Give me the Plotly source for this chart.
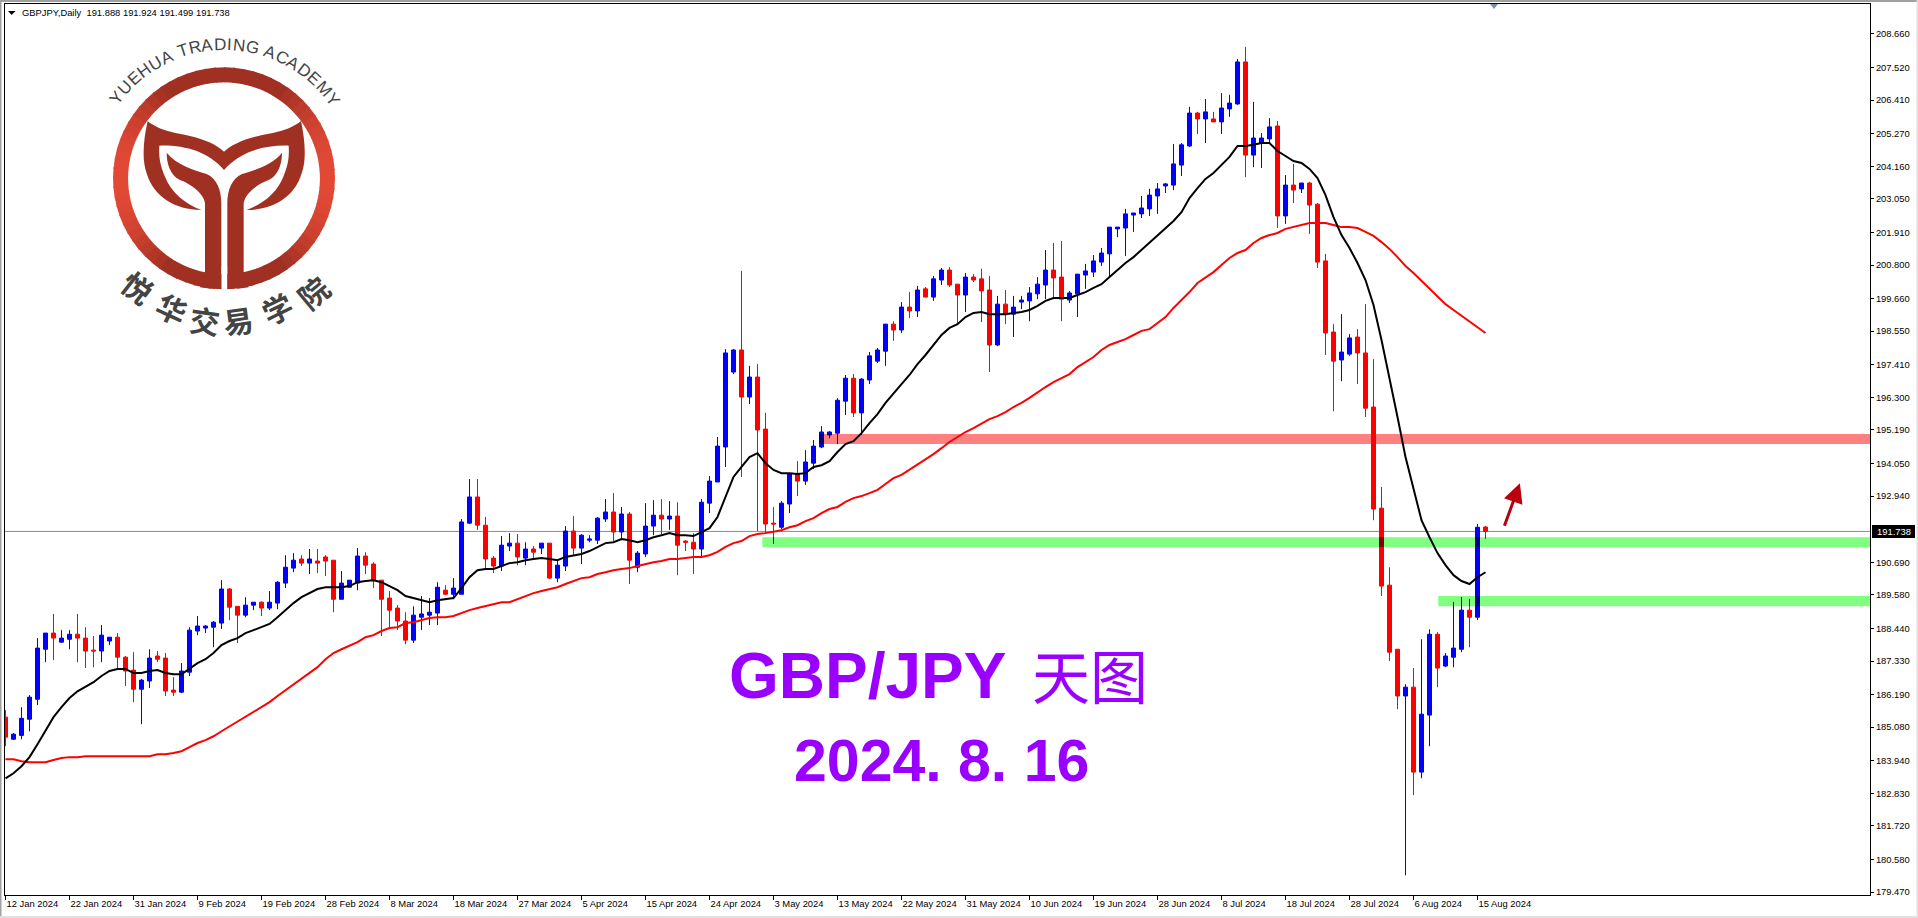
import math
import plotly.graph_objects as go

W, H = 1918, 918
PLOT_L, PLOT_R, PLOT_T, PLOT_B = 5, 1870, 4, 895

tick_labels = ["12 Jan 2024", "22 Jan 2024", "31 Jan 2024", "9 Feb 2024", "19 Feb 2024", "28 Feb 2024",
               "8 Mar 2024", "18 Mar 2024", "27 Mar 2024", "5 Apr 2024", "15 Apr 2024", "24 Apr 2024",
               "3 May 2024", "13 May 2024", "22 May 2024", "31 May 2024", "10 Jun 2024", "19 Jun 2024",
               "28 Jun 2024", "8 Jul 2024", "18 Jul 2024", "28 Jul 2024", "6 Aug 2024", "15 Aug 2024"]
price_ticks = [208.66, 207.52, 206.41, 205.27, 204.16, 203.05, 201.91, 200.80, 199.66, 198.55, 197.41,
               196.30, 195.19, 194.05, 192.94, 190.69, 189.58, 188.44, 187.33, 186.19, 185.08, 183.94,
               182.83, 181.72, 180.58, 179.47]

opens = [185.42, 184.67, 184.80, 185.35, 186.03, 187.73, 188.28, 187.97, 188.07, 188.24,
         188.11, 187.70, 187.67, 188.01, 188.14, 187.46, 187.02, 186.37, 186.65, 187.50,
         187.43, 186.34, 186.27, 186.95, 188.35, 188.45, 188.48, 188.62, 189.78, 189.19,
         188.89, 189.23, 189.33, 189.13, 189.30, 189.98, 190.49, 190.80, 190.66, 190.73,
         190.87, 190.76, 189.43, 189.84, 189.98, 190.90, 190.63, 190.08, 189.47, 189.13,
         188.69, 188.04, 188.82, 188.89, 188.96, 189.74, 189.60, 189.60, 192.02, 192.91,
         191.95, 190.83, 190.56, 191.24, 191.34, 190.83, 191.14, 191.17, 191.34, 190.15,
         190.56, 191.75, 191.17, 191.44, 191.44, 192.16, 192.40, 191.72, 192.33, 190.52,
         190.97, 191.92, 192.29, 192.16, 192.26, 191.41, 191.37, 191.14, 192.70, 193.42,
         194.61, 197.16, 197.91, 196.31, 196.99, 195.22, 192.02, 191.88, 192.67, 193.69,
         193.45, 194.06, 194.61, 195.02, 195.08, 196.17, 196.95, 195.77, 196.89, 197.53,
         197.87, 198.79, 198.59, 199.37, 199.24, 199.99, 199.71, 200.29, 200.63, 200.15,
         199.78, 200.39, 200.33, 199.95, 198.08, 199.47, 199.13, 199.54, 199.58, 199.82,
         200.12, 200.63, 200.39, 199.61, 199.82, 200.46, 200.56, 200.90, 201.18, 202.03,
         202.06, 202.50, 202.54, 202.71, 203.15, 203.49, 203.52, 204.20, 204.85, 205.97,
         205.77, 205.77, 205.67, 206.11, 206.28, 207.71, 204.54, 204.95, 205.09, 205.53,
         202.47, 203.52, 203.39, 203.59, 202.87, 200.94, 198.52, 197.57, 197.77, 198.35,
         197.81, 195.97, 192.53, 189.91, 187.73, 186.14, 186.44, 183.55, 185.49, 188.24,
         187.16, 187.46, 187.73, 189.06, 188.82, 191.888]
highs = [185.66, 184.88, 185.76, 186.17, 188.11, 188.28, 188.93, 188.38, 188.38, 188.93,
         188.48, 188.18, 188.55, 188.14, 188.28, 187.50, 187.63, 186.72, 187.73, 187.67,
         187.60, 186.78, 187.26, 188.48, 188.86, 188.55, 188.69, 190.08, 189.81, 189.19,
         189.50, 189.33, 189.36, 189.71, 190.05, 190.93, 191.00, 190.93, 191.14, 191.14,
         190.93, 190.76, 190.39, 190.08, 191.17, 191.03, 190.69, 190.08, 189.71, 189.23,
         188.99, 189.19, 189.54, 189.47, 190.01, 189.91, 190.15, 192.16, 193.52, 193.52,
         192.23, 190.90, 191.58, 191.68, 191.65, 191.37, 191.24, 191.34, 191.34, 190.73,
         191.92, 192.26, 191.65, 191.61, 192.23, 192.84, 193.04, 192.57, 192.40, 191.07,
         192.70, 192.80, 192.84, 192.77, 192.73, 191.44, 191.68, 192.84, 193.62, 194.95,
         197.94, 197.94, 200.60, 197.37, 197.43, 195.77, 192.57, 192.77, 193.69, 194.13,
         194.50, 194.85, 195.32, 195.15, 196.27, 197.06, 197.09, 196.95, 197.84, 197.98,
         198.79, 198.89, 199.54, 199.88, 200.09, 200.05, 200.43, 200.70, 200.73, 200.15,
         200.53, 200.49, 200.67, 200.43, 199.75, 199.95, 199.75, 199.75, 200.05, 200.39,
         201.31, 201.55, 201.62, 199.92, 200.49, 200.84, 201.14, 201.38, 202.09, 202.09,
         202.71, 202.57, 203.15, 203.39, 203.59, 203.59, 204.92, 204.95, 206.18, 206.01,
         206.45, 206.01, 206.65, 206.59, 207.81, 208.22, 206.35, 205.29, 205.80, 205.70,
         203.86, 204.24, 203.59, 203.63, 202.91, 201.18, 198.79, 199.13, 198.45, 198.62,
         199.47, 197.60, 193.25, 190.52, 187.73, 186.54, 187.09, 188.07, 188.41, 188.31,
         187.60, 189.33, 189.50, 189.44, 191.99, 191.924]
lows = [184.43, 184.64, 184.67, 184.94, 185.83, 187.29, 187.36, 187.97, 187.73, 187.29,
        187.09, 187.12, 187.29, 187.87, 187.09, 186.48, 185.93, 185.18, 186.41, 187.29,
        186.14, 186.14, 186.24, 186.82, 188.21, 188.28, 187.80, 188.42, 188.72, 187.94,
        188.82, 189.06, 188.86, 189.06, 189.09, 189.81, 190.35, 190.56, 190.29, 190.32,
        190.22, 188.99, 189.43, 189.84, 189.74, 190.29, 189.81, 188.18, 188.42, 188.38,
        187.90, 187.94, 188.38, 188.55, 188.55, 189.57, 189.43, 189.60, 191.99, 191.79,
        190.42, 190.32, 190.39, 191.07, 190.59, 190.59, 190.80, 190.97, 190.12, 190.01,
        190.39, 190.93, 190.63, 191.37, 191.31, 192.06, 191.41, 191.44, 189.95, 190.35,
        190.87, 191.61, 191.65, 191.79, 190.25, 191.07, 190.29, 190.87, 192.36, 193.42,
        193.93, 197.09, 193.59, 196.07, 191.75, 191.65, 191.31, 191.82, 192.36, 192.94,
        193.32, 193.86, 194.57, 194.91, 194.71, 195.70, 195.63, 195.02, 196.75, 197.47,
        197.37, 198.22, 198.49, 199.00, 199.03, 199.71, 199.58, 200.12, 200.05, 198.76,
        199.20, 200.22, 198.86, 197.16, 198.05, 198.79, 198.35, 199.30, 198.89, 199.64,
        199.64, 199.71, 198.89, 199.51, 199.03, 199.99, 200.39, 200.77, 200.39, 201.75,
        201.11, 201.93, 202.40, 202.47, 202.54, 203.25, 203.35, 203.83, 204.82, 205.26,
        204.95, 205.67, 205.26, 205.84, 206.25, 203.79, 204.13, 204.10, 204.95, 202.06,
        202.20, 202.91, 203.25, 201.86, 200.70, 197.74, 195.83, 196.85, 197.71, 196.75,
        195.63, 192.12, 189.54, 187.33, 185.69, 180.04, 182.77, 183.34, 184.43, 186.44,
        187.12, 187.12, 187.63, 187.80, 188.72, 191.499]
closes = [184.74, 184.84, 185.38, 186.10, 187.77, 188.28, 188.11, 188.11, 188.24, 188.11,
          187.67, 187.67, 188.21, 188.14, 187.46, 186.99, 186.37, 186.68, 187.43, 187.39,
          186.31, 186.27, 186.99, 188.38, 188.52, 188.52, 188.65, 189.78, 189.16, 188.89,
          189.23, 189.33, 189.13, 189.33, 190.01, 190.52, 190.76, 190.66, 190.80, 190.66,
          190.73, 189.43, 189.98, 190.08, 190.90, 190.59, 190.08, 189.43, 189.06, 188.69,
          188.04, 188.89, 188.93, 188.99, 189.84, 189.60, 189.81, 192.06, 192.91, 191.95,
          190.80, 190.56, 191.27, 191.34, 190.87, 191.14, 191.03, 191.34, 190.15, 190.59,
          191.75, 191.17, 191.61, 191.48, 192.19, 192.40, 191.72, 192.33, 190.76, 191.00,
          191.92, 192.29, 192.16, 192.26, 191.27, 191.37, 191.14, 192.73, 193.45, 194.64,
          197.81, 197.91, 196.31, 196.99, 195.19, 191.99, 191.99, 192.70, 193.69, 193.45,
          194.10, 194.64, 195.12, 195.12, 196.20, 196.95, 195.77, 196.92, 197.71, 197.91,
          198.79, 198.59, 199.37, 199.24, 199.95, 199.71, 200.33, 200.63, 200.12, 199.78,
          200.39, 200.29, 199.92, 198.08, 199.47, 199.13, 199.37, 199.61, 199.85, 200.15,
          200.63, 200.36, 199.64, 199.85, 200.49, 200.60, 200.94, 201.21, 202.09, 202.09,
          202.54, 202.57, 202.74, 203.18, 203.39, 203.56, 204.24, 204.89, 205.97, 205.77,
          206.01, 205.67, 206.14, 206.31, 207.71, 204.54, 205.12, 205.12, 205.50, 202.47,
          203.52, 203.35, 203.59, 202.84, 200.90, 198.49, 197.53, 197.84, 198.32, 197.81,
          195.93, 192.50, 189.88, 187.63, 186.14, 186.44, 183.55, 185.52, 188.24, 187.09,
          187.50, 187.77, 189.06, 188.82, 191.88, 191.738]
ma_fast = [183.34, 183.51, 183.75, 184.06, 184.50, 184.98, 185.42, 185.76, 186.07, 186.30,
           186.47, 186.61, 186.82, 186.99, 187.06, 187.06, 186.92, 186.92, 186.99, 187.02,
           186.92, 186.88, 186.88, 187.06, 187.26, 187.39, 187.60, 187.87, 188.01, 188.11,
           188.28, 188.38, 188.48, 188.59, 188.82, 189.06, 189.30, 189.50, 189.64, 189.78,
           189.84, 189.84, 189.84, 189.88, 190.01, 190.05, 190.08, 190.01, 189.88, 189.74,
           189.54, 189.47, 189.40, 189.33, 189.40, 189.43, 189.47, 189.81, 190.18, 190.42,
           190.46, 190.46, 190.56, 190.66, 190.69, 190.76, 190.80, 190.83, 190.80, 190.76,
           190.87, 190.93, 190.97, 191.07, 191.21, 191.34, 191.37, 191.48, 191.44, 191.37,
           191.44, 191.54, 191.61, 191.68, 191.61, 191.61, 191.58, 191.72, 191.85, 192.23,
           192.91, 193.59, 193.93, 194.27, 194.40, 194.06, 193.83, 193.72, 193.72, 193.69,
           193.72, 193.93, 193.99, 194.13, 194.44, 194.71, 194.81, 195.08, 195.42, 195.73,
           196.11, 196.45, 196.75, 197.06, 197.43, 197.74, 198.08, 198.42, 198.66, 198.79,
           199.03, 199.17, 199.20, 199.13, 199.13, 199.13, 199.17, 199.20, 199.27, 199.41,
           199.58, 199.68, 199.68, 199.68, 199.78, 199.88, 200.02, 200.15, 200.39, 200.63,
           200.87, 201.07, 201.31, 201.55, 201.79, 202.06, 202.30, 202.60, 203.08, 203.42,
           203.73, 203.93, 204.21, 204.48, 204.85, 204.85, 204.89, 204.95, 204.95, 204.68,
           204.51, 204.34, 204.27, 204.07, 203.76, 203.18, 202.43, 201.82, 201.38, 200.87,
           200.29, 199.44, 198.25, 196.99, 195.63, 194.27, 193.15, 192.12, 191.54, 191.00,
           190.59, 190.25, 190.05, 189.95, 190.18, 190.35]
ma_slow = [183.99, 183.99, 183.92, 183.89, 183.89, 183.89, 183.96, 184.03, 184.06, 184.06,
           184.09, 184.09, 184.09, 184.09, 184.09, 184.09, 184.09, 184.09, 184.09, 184.16,
           184.16, 184.20, 184.26, 184.40, 184.54, 184.64, 184.77, 184.94, 185.11, 185.28,
           185.45, 185.62, 185.76, 185.93, 186.14, 186.34, 186.54, 186.71, 186.92, 187.12,
           187.39, 187.60, 187.73, 187.84, 187.97, 188.14, 188.21, 188.35, 188.45, 188.48,
           188.62, 188.65, 188.72, 188.79, 188.82, 188.82, 188.86, 188.96, 189.06, 189.13,
           189.19, 189.26, 189.33, 189.33, 189.43, 189.54, 189.64, 189.71, 189.78, 189.84,
           189.95, 190.05, 190.15, 190.18, 190.29, 190.35, 190.42, 190.46, 190.49, 190.56,
           190.63, 190.69, 190.73, 190.80, 190.80, 190.83, 190.87, 190.87, 190.93, 191.04,
           191.21, 191.34, 191.41, 191.58, 191.65, 191.68, 191.72, 191.78, 191.88, 191.95,
           192.09, 192.19, 192.36, 192.50, 192.57, 192.74, 192.87, 192.94, 193.04, 193.15,
           193.35, 193.55, 193.66, 193.83, 194.03, 194.20, 194.37, 194.57, 194.78, 194.95,
           195.12, 195.25, 195.42, 195.56, 195.66, 195.80, 195.97, 196.11, 196.28, 196.48,
           196.65, 196.82, 196.96, 197.09, 197.33, 197.50, 197.67, 197.91, 198.08, 198.18,
           198.28, 198.42, 198.56, 198.62, 198.83, 199.03, 199.34, 199.61, 199.88, 200.19,
           200.36, 200.56, 200.80, 201.04, 201.21, 201.31, 201.55, 201.72, 201.82, 201.89,
           202.03, 202.09, 202.16, 202.23, 202.23, 202.23, 202.16, 202.09, 202.09, 202.06,
           201.93, 201.79, 201.58, 201.35, 201.07, 200.77, 200.53, 200.26, 200.02, 199.75,
           199.47, 199.27, 199.07, 198.86, 198.66, 198.49]

# price zones: (first bar, top, bottom)
red_zone = (102.0, 195.05, 194.71)
green_zone_upper = (94.6, 191.54, 191.21)
green_zone_lower = (179.1, 189.54, 189.19)
arrow_tail = (187.3, 191.88)
arrow_tip = (189.3, 193.38)
X_RANGE = [-0.0625, 233.0625]

BLUE, RED = "#0000ff", "#ff0000"
LOGO_DARK = "#a03022"
bars = list(range(len(closes)))


def px(x):
    # paper coordinates run over the plot area, not the whole window
    return (x - PLOT_L) / (PLOT_R - PLOT_L)


def py(y):
    return 1 - (y - PLOT_T) / (PLOT_B - PLOT_T)


def logo_path(points):
    # points in 3x crop pixels; plotly keeps one coordinate group per command
    out = []
    for cmd, vals in points:
        step = 6 if cmd == "C" else 2
        for s in range(0, len(vals), step):
            chunk = vals[s:s + step]
            coords = [f"{px(chunk[k] / 3):.5f},{py(chunk[k + 1] / 3):.5f}" for k in range(0, len(chunk), 2)]
            out.append(cmd + " " + " ".join(coords))
    return " ".join(out) + " Z"


def mirror(segments):
    # same outline flipped around the stem axis of the logo
    flipped = []
    for cmd, vals in segments:
        flipped.append((cmd, [1346 - v if k % 2 == 0 else v for k, v in enumerate(vals)]))
    return flipped


fig = go.Figure()
fig.add_trace(go.Candlestick(
    x=bars, open=opens, high=highs, low=lows, close=closes,
    increasing=dict(line=dict(color=BLUE, width=1), fillcolor=BLUE),
    decreasing=dict(line=dict(color=RED, width=1), fillcolor=RED),
    whiskerwidth=0, showlegend=False, hoverinfo="skip",
))

# candle parts under a zone look darker in the reference
dark = {"blue": ([], [], [], []), "red": ([], [], [], [])}
for first, top, bottom in [green_zone_upper, green_zone_lower, red_zone]:
    for i in bars:
        if i < first:
            continue
        name = "blue" if closes[i] > opens[i] else "red"
        if name == "red" and top == red_zone[1]:
            continue
        wick_hi, wick_lo = min(highs[i], top), max(lows[i], bottom)
        if wick_hi > wick_lo:
            dark[name][0].extend([i, i, None])
            dark[name][1].extend([wick_lo, wick_hi, None])
        body_hi, body_lo = min(max(opens[i], closes[i]), top), max(min(opens[i], closes[i]), bottom)
        if body_hi > body_lo:
            dark[name][2].extend([i, i, None])
            dark[name][3].extend([body_lo, body_hi, None])
for name, color in [("blue", "#000080"), ("red", "#800000")]:
    wx, wy, bx, by = dark[name]
    fig.add_trace(go.Scatter(x=wx, y=wy, mode="lines", line=dict(color=color, width=1),
                             showlegend=False, hoverinfo="skip"))
    fig.add_trace(go.Scatter(x=bx, y=by, mode="lines", line=dict(color=color, width=5),
                             showlegend=False, hoverinfo="skip"))

fig.add_trace(go.Scatter(x=bars, y=ma_slow, mode="lines", line=dict(color=RED, width=2),
                         showlegend=False, hoverinfo="skip"))
fig.add_trace(go.Scatter(x=bars, y=ma_fast, mode="lines", line=dict(color="#000000", width=2),
                         showlegend=False, hoverinfo="skip"))

shapes = []
for zone, color in [(red_zone, "#ff8080"), (green_zone_upper, "#80ff80"), (green_zone_lower, "#80ff80")]:
    shapes.append(dict(type="rect", layer="below", xref="x", yref="y", x0=zone[0], x1=X_RANGE[1],
                       y0=zone[2], y1=zone[1], fillcolor=color, line=dict(width=0)))
shapes.append(dict(type="line", layer="below", xref="paper", yref="y", x0=0, x1=1,
                   y0=closes[-1], y1=closes[-1], line=dict(color="#8090a0", width=1)))

# logo ring, split in arcs for the colour gradient
cx, cy, r_out, r_in = 224.0, 178.3, 111.0, 96.0
n_arcs = 72
for k in range(n_arcs):
    a0, a1 = 2 * math.pi * k / n_arcs, 2 * math.pi * (k + 1.15) / n_arcs
    mid = abs(math.cos((a0 + a1) / 2))
    t = max(0.0, (mid - 0.55) / 0.45)
    col = f"rgb({int(160 + 67 * t)},{int(48 + 26 * t)},{int(34 + 20 * t)})"
    pts = [(cx + r_out * math.cos(a0), cy + r_out * math.sin(a0)), (cx + r_out * math.cos(a1), cy + r_out * math.sin(a1)),
           (cx + r_in * math.cos(a1), cy + r_in * math.sin(a1)), (cx + r_in * math.cos(a0), cy + r_in * math.sin(a0))]
    path = "M " + " L ".join(f"{px(a):.5f},{py(b):.5f}" for a, b in pts) + " Z"
    shapes.append(dict(type="path", xref="paper", yref="paper", path=path, fillcolor=col, line=dict(width=0)))

crown = [("M", [443, 363]),
         ("C", [480, 395, 540, 400, 570, 408, 620, 420, 650, 435, 672, 455,
                695, 435, 725, 420, 775, 408, 805, 400, 865, 395, 903, 363,
                915, 420, 920, 480, 905, 520, 885, 590, 820, 630, 740, 630,
                790, 610, 830, 580, 850, 530, 865, 495, 868, 470, 866, 437,
                790, 435, 720, 455, 672, 510, 625, 455, 555, 435, 478, 437,
                476, 470, 480, 495, 495, 530, 515, 580, 555, 610, 604, 630,
                525, 630, 460, 590, 440, 520, 425, 480, 430, 420, 443, 363])]
leaf = [("M", [500, 458]),
        ("C", [530, 495, 580, 510, 620, 522, 650, 535, 664, 570, 664, 610]),
        ("L", [664, 835]),
        ("C", [664, 852, 650, 862, 632, 866]),
        ("L", [600, 862, 615, 815, 615, 610]),
        ("C", [612, 580, 570, 550, 540, 540, 510, 525, 500, 490, 500, 458])]
for seg in (crown, leaf, mirror(leaf)):
    shapes.append(dict(type="path", xref="paper", yref="paper", path=logo_path(seg),
                       fillcolor=LOGO_DARK, line=dict(width=0)))
# the ring is open at the foot of the stem
shapes.append(dict(type="rect", xref="paper", yref="paper", x0=px(664.5 / 3), x1=px(681.5 / 3),
                   y0=py(880 / 3), y1=py(800 / 3), fillcolor="#ffffff", line=dict(width=0)))

# window chrome and chart furniture
for x0, y0, x1, y1, col in [(0, 0, W, 2, "#a0a0a0"), (0, 0, 1.5, H, "#a0a0a0"),
                            (0, 916, W, H, "#e0e0e0"), (1916.5, 0, W, H, "#e0e0e0"),
                            (1872, 525, 1915, 538, "#000000")]:
    shapes.append(dict(type="rect", xref="paper", yref="paper", x0=px(x0), x1=px(x1), y0=py(y1), y1=py(y0),
                       fillcolor=col, line=dict(width=0)))
for tri, col in [([(8, 11), (15.5, 11), (11.7, 15)], "#000000"), ([(1490, 4), (1498, 4), (1494, 9)], "#7f8fa4")]:
    path = "M " + " L ".join(f"{px(a):.5f},{py(b):.5f}" for a, b in tri) + " Z"
    shapes.append(dict(type="path", xref="paper", yref="paper", path=path, fillcolor=col, line=dict(width=0)))

TICK_FONT = dict(family="Liberation Sans", size=9.4, color="#000000")
annotations = [
    dict(x=px(20), y=py(12.5), text="GBPJPY,Daily&nbsp;&nbsp;191.888 191.924 191.499 191.738", font=TICK_FONT,
         xanchor="left", yanchor="middle"),
    dict(x=px(1893.5), y=py(531.5), text=f"{closes[-1]:.3f}", font=dict(family="Liberation Sans", size=9.4, color="#ffffff"),
         xanchor="center", yanchor="middle"),
    dict(x=px(727), y=py(676), text="<b>GBP/JPY</b>", font=dict(family="Liberation Sans", size=64, color="#9900ff"),
         xanchor="left", yanchor="middle"),
    dict(x=px(1030), y=py(674), text="天图", font=dict(family="Noto Sans CJK SC", size=58, color="#9900ff"),
         xanchor="left", yanchor="middle"),
    dict(x=px(942), y=py(761), text="<b>2024. 8. 16</b>", font=dict(family="Liberation Sans", size=59, color="#9900ff"),
         xanchor="center", yanchor="middle"),
]

# logo lettering along the ring
ring_text = "YUEHUA TRADING ACADEMY"
widths = {"Y": .667, "U": .722, "E": .667, "H": .722, "A": .667, " ": .278, "T": .611, "R": .722,
          "D": .722, "I": .278, "N": .722, "G": .778, "C": .722, "M": .833}
total = sum(widths[c] for c in ring_text) - (widths["Y"] + widths["Y"]) / 2
run = -widths["Y"] / 2
for c in ring_text:
    ang = -53 + 107 * (run + widths[c] / 2) / total
    run += widths[c]
    if c == " ":
        continue
    rad = math.radians(ang)
    annotations.append(dict(x=px(cx + 134 * math.sin(rad)), y=py(cy - 134 * math.cos(rad)), text=c,
                            textangle=ang, font=dict(family="Liberation Sans", size=17, color="#444444"),
                            xanchor="center", yanchor="middle"))
for ch, (x, y, ang) in zip("悦华交易学院", [(138, 287, 38), (172, 308, 25), (205, 320, 8),
                                          (238, 320, -8), (277, 308, -26), (313, 292, -40)]):
    annotations.append(dict(x=px(x), y=py(y), text=f"<b>{ch}</b>", textangle=ang,
                            font=dict(family="Noto Sans CJK SC", size=30, color="#444444"),
                            xanchor="center", yanchor="middle"))
for a in annotations:
    a.update(xref="paper", yref="paper", showarrow=False)
annotations.append(dict(xref="x", yref="y", axref="x", ayref="y", x=arrow_tip[0], y=arrow_tip[1],
                        ax=arrow_tail[0], ay=arrow_tail[1], text="", showarrow=True, arrowhead=2,
                        arrowsize=1.3, arrowwidth=3, arrowcolor="#b8000e"))

fig.update_layout(
    width=W, height=H,
    margin=dict(l=PLOT_L, r=W - PLOT_R, t=PLOT_T, b=H - PLOT_B, pad=0, autoexpand=False),
    paper_bgcolor="#ffffff", plot_bgcolor="#ffffff",
    boxgap=0.5, boxgroupgap=0,
    xaxis=dict(type="linear", range=X_RANGE, rangeslider=dict(visible=False), showgrid=False, zeroline=False,
               tickmode="array", tickvals=bars[::8], ticktext=tick_labels, ticks="outside", ticklen=4, tickangle=0,
               tickcolor="#000000", showline=True, linecolor="#000000", linewidth=1, mirror=True,
               tickfont=TICK_FONT, ticklabelposition="outside right", automargin=False),
    yaxis=dict(range=[179.37, 209.68], side="right", showgrid=False, zeroline=False, automargin=False,
               tickmode="array", tickvals=price_ticks, ticktext=[f"{v:.3f}" for v in price_ticks],
               ticks="outside", ticklen=3, tickcolor="#000000", showline=True, linecolor="#000000",
               linewidth=1, mirror=True, tickfont=TICK_FONT),
    shapes=shapes, annotations=annotations,
)

fig.write_html("out.html", config={"displayModeBar": False},
               post_script="document.body.style.margin='0';document.body.style.overflow='hidden';")
